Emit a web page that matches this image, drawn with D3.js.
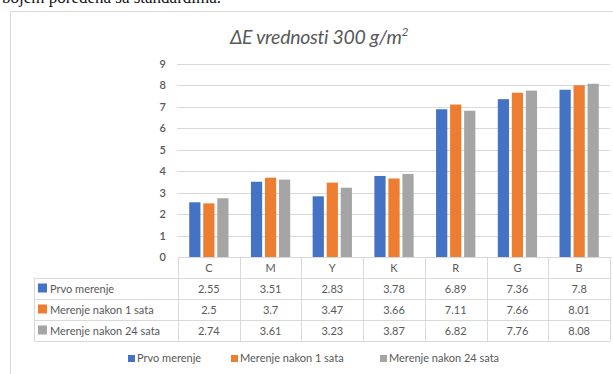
<!DOCTYPE html>
<html>
<head>
<meta charset="utf-8">
<script src="https://cdn.jsdelivr.net/npm/d3@7"></script>
<style>
  html, body { margin: 0; padding: 0; background: #fff; }
  svg { display: block; }
</style>
</head>
<body>
<svg id="chart" width="613" height="374"></svg>
<script>
// Colour-difference measurements per process colour
const categories = ["C", "M", "Y", "K", "R", "G", "B"];
const seriesNames = ["Prvo merenje", "Merenje nakon 1 sata", "Merenje nakon 24 sata"];
const prvoMerenje = [2.55, 3.51, 2.83, 3.78, 6.89, 7.36, 7.8];
const nakon1Sata = [2.5, 3.7, 3.47, 3.66, 7.11, 7.66, 8.01];
const nakon24Sata = [2.74, 3.61, 3.23, 3.87, 6.82, 7.76, 8.08];
const yTicks = [0, 1, 2, 3, 4, 5, 6, 7, 8, 9];
const seriesColors = ["#4472c4", "#ed7d31", "#a5a5a5"];

const series = [prvoMerenje, nakon1Sata, nakon24Sata];
const textColor = "#595959";
const gridColor = "#d9d9d9";
const font = "Lato, 'Open Sans', sans-serif";

const svg = d3.select("#chart");

// Body text line running above the chart frame
svg.append("text")
  .attr("x", 2).attr("y", 3)
  .attr("font-family", "'Liberation Serif', 'Times New Roman', serif")
  .attr("font-size", 17)
  .attr("fill", "#111")
  .text("bojem poređena sa standardima.");

// Chart frame
svg.append("path")
  .attr("d", "M10.5,380 V11.5 H620")
  .attr("fill", "none")
  .attr("stroke", gridColor)
  .attr("stroke-width", 1);

// Title
const title = svg.append("text")
  .attr("x", 319).attr("y", 44)
  .attr("text-anchor", "middle")
  .attr("font-family", font)
  .attr("font-style", "italic")
  .attr("font-size", 19.5)
  .attr("letter-spacing", -0.3)
  .attr("fill", textColor);
title.append("tspan").text("ΔE  vrednosti 300 g/m");
title.append("tspan").attr("font-size", 12).attr("dy", -8).text("2");

const x0 = d3.scaleBand().domain(categories).range([178, 610]).paddingInner(0).paddingOuter(0);
const x1 = d3.scaleBand().domain(d3.range(series.length)).range([0, x0.bandwidth()]).paddingInner(0.2).paddingOuter(0.8);
const y = d3.scaleLinear().domain([0, 9]).range([257, 64]);

// Gridlines
svg.append("g")
  .selectAll("line")
  .data(yTicks.filter(d => d > 0))
  .join("line")
  .attr("x1", 177).attr("x2", 610)
  .attr("y1", d => Math.round(y(d)) + 0.5)
  .attr("y2", d => Math.round(y(d)) + 0.5)
  .attr("stroke", gridColor);

// Y axis tick labels
const yAxis = d3.axisLeft(y).tickValues(yTicks).tickSize(0).tickPadding(0).tickFormat(d3.format("d"));
const yg = svg.append("g").attr("transform", "translate(166,0)").call(yAxis);
yg.select(".domain").remove();
yg.selectAll("text")
  .attr("font-family", font)
  .attr("font-size", 11)
  .attr("font-weight", 600)
  .attr("fill", textColor);

// Bars
const groups = svg.append("g")
  .selectAll("g")
  .data(categories)
  .join("g")
  .attr("transform", d => `translate(${x0(d)},0)`);
groups.selectAll("rect")
  .data((d, i) => series.map((s, k) => ({ k, v: s[i] })))
  .join("rect")
  .attr("x", d => x1(d.k))
  .attr("width", x1.bandwidth())
  .attr("y", d => y(d.v))
  .attr("height", d => y(0) - y(d.v))
  .attr("fill", d => seriesColors[d.k]);

// Data table under the plot
const rowTop = 257, rowH = 21;
const tableLeft = 34, tableRight = 610;
const table = svg.append("g");
// header row top and its cells
table.append("line")
  .attr("x1", 178).attr("x2", tableRight)
  .attr("y1", rowTop + 0.5).attr("y2", rowTop + 0.5)
  .attr("stroke", gridColor);
for (let r = 1; r <= series.length + 1; r++) {
  table.append("line")
    .attr("x1", tableLeft).attr("x2", tableRight)
    .attr("y1", rowTop + r * rowH + 0.5).attr("y2", rowTop + r * rowH + 0.5)
    .attr("stroke", gridColor);
}
// vertical separators
table.append("line")
  .attr("x1", tableLeft + 0.5).attr("x2", tableLeft + 0.5)
  .attr("y1", rowTop + rowH).attr("y2", rowTop + (series.length + 1) * rowH)
  .attr("stroke", gridColor);
categories.concat([null]).forEach((c, i) => {
  const xx = c === null ? tableRight : x0(c);
  table.append("line")
    .attr("x1", Math.round(xx) + 0.5).attr("x2", Math.round(xx) + 0.5)
    .attr("y1", rowTop).attr("y2", rowTop + (series.length + 1) * rowH)
    .attr("stroke", gridColor);
});
// category names
table.selectAll("text.cat")
  .data(categories)
  .join("text")
  .attr("class", "cat")
  .attr("x", d => x0(d) + x0.bandwidth() / 2)
  .attr("y", rowTop + rowH / 2 + 4)
  .attr("text-anchor", "middle")
  .attr("font-family", font).attr("font-size", 11)
  .attr("fill", textColor)
  .text(d => d);
// series rows
series.forEach((s, k) => {
  const cy = rowTop + (k + 1) * rowH + rowH / 2;
  table.append("rect")
    .attr("x", 38).attr("y", cy - 5).attr("width", 9).attr("height", 9)
    .attr("fill", seriesColors[k]);
  table.append("text")
    .attr("x", 50).attr("y", cy + 4)
    .attr("font-family", font).attr("font-size", 11)
    .attr("fill", textColor)
    .text(seriesNames[k]);
  table.selectAll(null)
    .data(s)
    .join("text")
    .attr("x", (d, i) => x0(categories[i]) + x0.bandwidth() / 2)
    .attr("y", cy + 4)
    .attr("text-anchor", "middle")
    .attr("font-family", font).attr("font-size", 11)
    .attr("fill", textColor)
    .text(d => d);
});

// Legend
const legendX = [128, 231, 380];
const legend = svg.append("g");
seriesNames.forEach((name, k) => {
  legend.append("rect")
    .attr("x", legendX[k]).attr("y", 355).attr("width", 7).attr("height", 7)
    .attr("fill", seriesColors[k]);
  legend.append("text")
    .attr("x", legendX[k] + 9).attr("y", 362)
    .attr("font-family", font).attr("font-size", 11)
    .attr("fill", textColor)
    .text(name);
});
</script>
</body>
</html>
